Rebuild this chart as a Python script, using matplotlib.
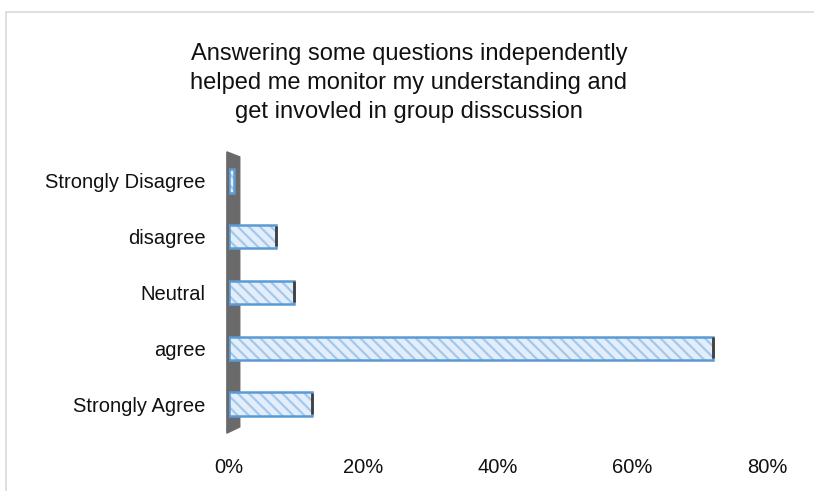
import matplotlib.pyplot as plt
import numpy as np
from matplotlib.patches import Polygon, Rectangle
from matplotlib.ticker import PercentFormatter

# data, top to bottom as drawn
categories = ['Strongly Agree', 'agree', 'Neutral', 'disagree', 'Strongly Disagree']
shares = [0.123, 0.72, 0.097, 0.07, 0.008]
xticks = [0, 0.2, 0.4, 0.6, 0.8]
title_lines = ['Answering some questions independently',
               'helped me monitor my understanding and',
               'get invovled in group disscussion']

plt.rcParams['font.family'] = ['Liberation Sans', 'DejaVu Sans']
plt.rcParams['hatch.linewidth'] = 1.6

fig = plt.figure(figsize=(8.14, 4.91), dpi=100)
fig.patch.set_facecolor('white')

# light chart border (runs off the right and bottom edges)
fig.add_artist(Rectangle((6 / 814, -0.1), 1.0, 1 - 12 / 491 + 0.1,
                         transform=fig.transFigure, fill=False,
                         edgecolor='#d9d9d9', linewidth=1.2))

ax = fig.add_axes([229 / 814, 1 - 432 / 491, 538 / 814, 279 / 491])
y = np.arange(len(categories))

# hatched fill
ax.barh(y, shares, height=0.42, color='#e3eefa', edgecolor='#a4c8ec',
        hatch='\\\\\\', linewidth=0, zorder=3)
# outline
ax.barh(y, shares, height=0.42, fill=False, edgecolor='#5b9bd5',
        linewidth=1.8, zorder=4)
# dark depth edge on the right end of each bar
for yi, v in zip(y, shares):
    if v > 0.02:
        ax.plot([v, v], [yi - 0.17, yi + 0.2], color='#404040',
                linewidth=2, solid_capstyle='butt', zorder=5)

# grey 3D wall behind the category axis
wall = Polygon([(-0.004, 1.004), (0.020, 0.986), (0.020, 0.018), (-0.004, -0.004)],
               closed=True, transform=ax.transAxes, facecolor='#6a6a6a',
               edgecolor='#6a6a6a', clip_on=False, zorder=1)
ax.add_patch(wall)

ax.set_xlim(0, 0.8)
ax.set_ylim(-0.5, len(categories) - 0.5)
ax.set_xticks(xticks)
ax.xaxis.set_major_formatter(PercentFormatter(1.0, decimals=0))
ax.set_yticks(y)
ax.set_yticklabels(categories)
ax.tick_params(axis='both', length=0, labelsize=14.5, colors='#111111')
ax.tick_params(axis='x', pad=19)
ax.tick_params(axis='y', pad=17)
for s in ax.spines.values():
    s.set_visible(False)
ax.set_facecolor('none')

for i, line in enumerate(title_lines):
    fig.text(409 / 814, 1 - (54 + 29 * i) / 491, line, ha='center', va='center',
             fontsize=17, color='#111111')

fig.savefig('out.png', dpi=100)
